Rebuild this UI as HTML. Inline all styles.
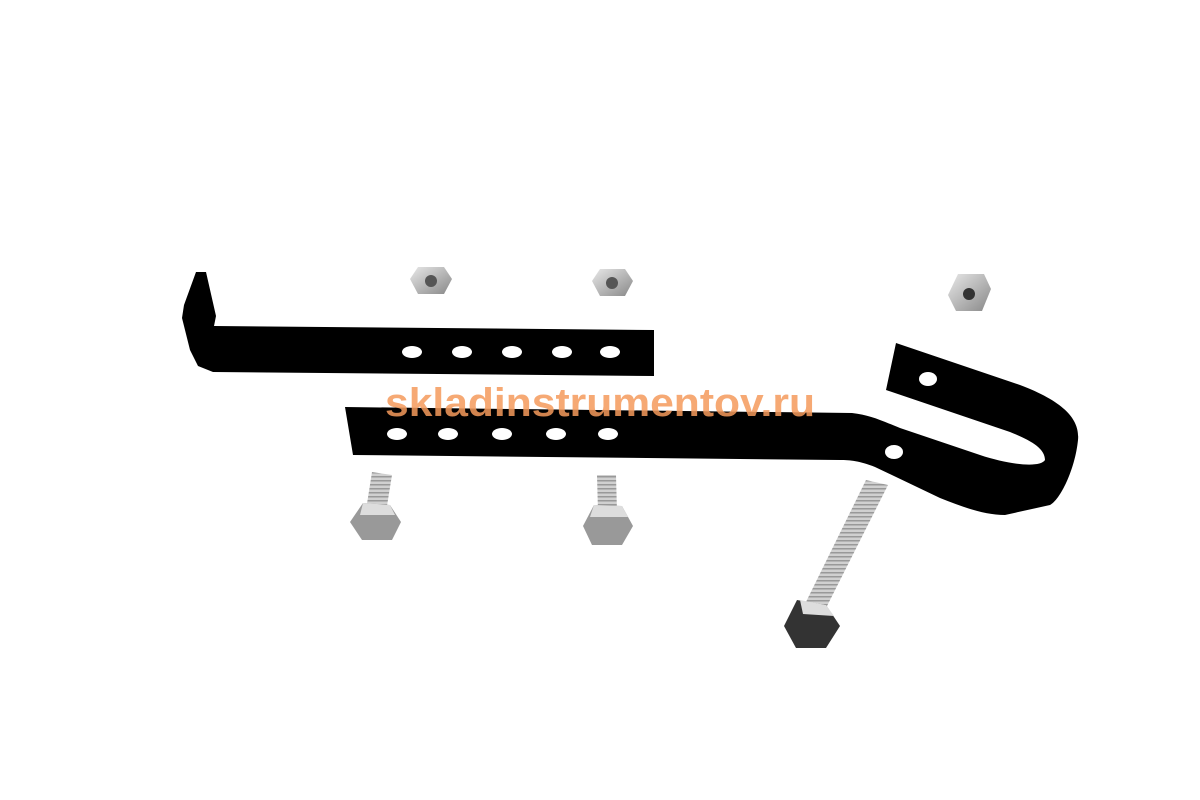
<!DOCTYPE html>
<html><head><meta charset="utf-8"><style>html,body{margin:0;padding:0;background:#fff;}svg{display:block}</style></head>
<body>
<svg width="1200" height="800" viewBox="0 0 1200 800" xmlns="http://www.w3.org/2000/svg">
<defs>
<linearGradient id="g" x1="0" y1="0" x2="1" y2="1"><stop offset="0" stop-color="#e8e8e8"/><stop offset="1" stop-color="#888"/></linearGradient>
<pattern id="th" width="6" height="4" patternUnits="userSpaceOnUse"><rect width="6" height="4" fill="#d0d0d0"/><rect width="6" height="1.5" fill="#999"/></pattern>
</defs>
<!-- upper bracket -->
<polygon fill="#000" points="196,272 206,272 216,316 214,326 654,330 654,376 213,372 198,366 190,350 182,318 184,305"/>
<g fill="#fff"><ellipse cx="412" cy="352" rx="10" ry="6"/><ellipse cx="462" cy="352" rx="10" ry="6"/><ellipse cx="512" cy="352" rx="10" ry="6"/><ellipse cx="562" cy="352" rx="10" ry="6"/><ellipse cx="610" cy="352" rx="10" ry="6"/></g>
<!-- lower bracket -->
<path fill="#000" d="M345,407 L852,413 C870,415 880,420 900,428 L980,455 C1010,465 1040,468 1045,460 C1045,448 1030,440 1010,432 L886,390 L896,343 L1020,385 C1065,402 1080,420 1078,440 C1075,470 1060,500 1050,505 L1005,515 C985,515 965,508 940,498 L875,467 C860,461 850,460 840,460 L353,455 Z"/>
<g fill="#fff"><ellipse cx="397" cy="434" rx="10" ry="6"/><ellipse cx="448" cy="434" rx="10" ry="6"/><ellipse cx="502" cy="434" rx="10" ry="6"/><ellipse cx="556" cy="434" rx="10" ry="6"/><ellipse cx="608" cy="434" rx="10" ry="6"/><ellipse cx="894" cy="452" rx="9" ry="7"/><ellipse cx="928" cy="379" rx="9" ry="7"/></g>
<!-- nuts -->
<g>
<polygon fill="url(#g)" points="418,267 444,267 452,279 444,294 418,294 410,279"/><circle cx="431" cy="281" r="6" fill="#555"/>
<polygon fill="url(#g)" points="600,269 625,269 633,281 625,296 600,296 592,281"/><circle cx="612" cy="283" r="6" fill="#555"/>
<polygon fill="url(#g)" points="958,274 984,274 991,289 982,311 956,311 948,295"/><circle cx="969" cy="294" r="6" fill="#333"/>
</g>
<!-- small bolts -->
<polygon fill="url(#th)" points="372,472 392,475 386,512 366,510"/>
<polygon fill="#999" points="363,503 390,505 401,522 392,540 362,540 350,522"/><polygon fill="#ddd" points="363,503 390,505 395,515 360,515"/>
<polygon fill="url(#th)" points="597,475 616,475 617,512 598,512"/>
<polygon fill="#999" points="594,505 622,506 633,526 622,545 592,545 583,526"/><polygon fill="#ddd" points="594,505 622,506 628,517 590,517"/>
<!-- long bolt -->
<polygon fill="url(#th)" points="866,480 888,485 823,614 803,608"/>
<polygon fill="#333" points="797,600 826,605 840,626 826,648 796,648 784,626"/><polygon fill="#ddd" points="800,600 826,605 834,616 803,614"/>
<!-- watermark -->
<text x="385" y="416" font-family="Liberation Sans, sans-serif" font-weight="bold" font-size="40" fill="#f59a5c" fill-opacity="0.85" textLength="430" lengthAdjust="spacingAndGlyphs">skladinstrumentov.ru</text>
</svg>
</body></html>
